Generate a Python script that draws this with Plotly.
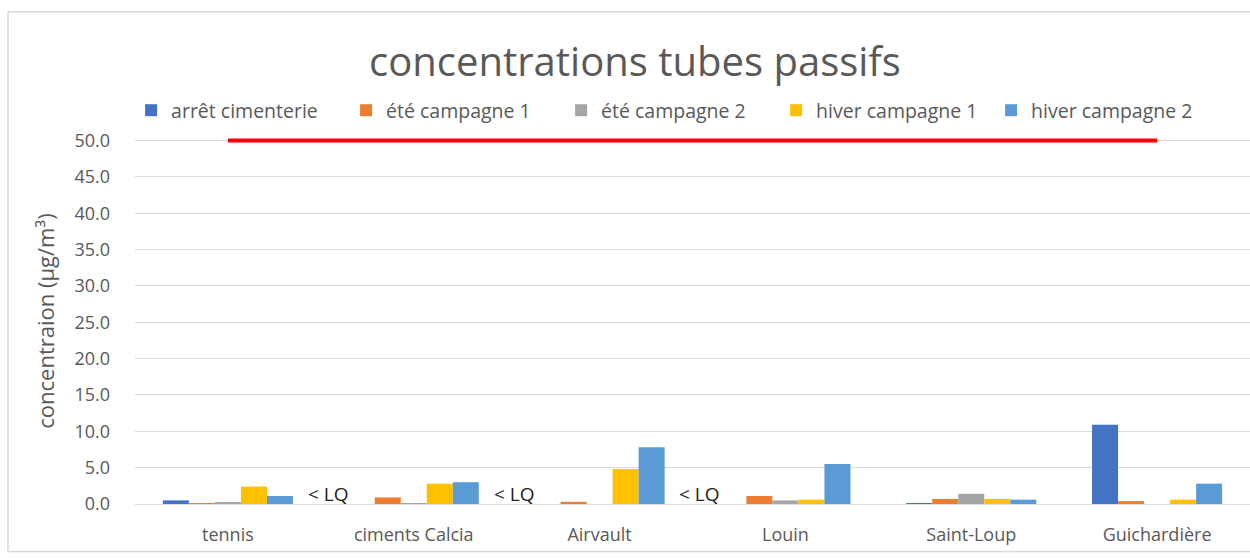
import plotly.graph_objects as go

categories = ["tennis", "ciments Calcia", "Airvault", "Louin", "Saint-Loup", "Guichardière"]
series_names = ["arrêt cimenterie", "été campagne 1", "été campagne 2", "hiver campagne 1", "hiver campagne 2"]
arret_cimenterie = [0.5, None, None, None, 0.1, 10.9]
ete_campagne_1 = [0.1, 0.9, 0.3, 1.1, 0.7, 0.4]
ete_campagne_2 = [0.2, 0.1, 0.0, 0.5, 1.4, 0.0]
hiver_campagne_1 = [2.4, 2.8, 4.8, 0.6, 0.7, 0.6]
hiver_campagne_2 = [1.1, 3.0, 7.8, 5.5, 0.6, 2.8]
limit_value = [50, 50, 50, 50, 50, 50]
lq_categories = ["ciments Calcia", "Airvault", "Louin"]
lq_label = "< LQ"
y_ticks = [0, 5, 10, 15, 20, 25, 30, 35, 40, 45, 50]

colors = ["#4472C4", "#ED7D31", "#A5A5A5", "#FFC000", "#5B9BD5"]
all_series = [arret_cimenterie, ete_campagne_1, ete_campagne_2, hiver_campagne_1, hiver_campagne_2]

FONT = "Open Sans"
GRAY = "#595959"

fig = go.Figure()
for name, vals, col in zip(series_names, all_series, colors):
    fig.add_trace(go.Bar(x=categories, y=vals, name=name, marker=dict(color=col, line=dict(width=0))))

fig.add_trace(go.Scatter(x=categories, y=limit_value, mode="lines",
                         line=dict(color="#FF0000", width=4), showlegend=False,
                         cliponaxis=False, hoverinfo="skip"))

annotations = []
for c in lq_categories:
    annotations.append(dict(x=c, y=1.4, xref="x", yref="y", text=lq_label, showarrow=False,
                            xanchor="right", yanchor="middle", xshift=-63,
                            font=dict(family=FONT, size=19, color="#222222")))
annotations.append(dict(x=-0.081, y=0.5, xref="paper", yref="paper", text="concentraion (µg/m³)",
                        showarrow=False, textangle=-90, xanchor="center", yanchor="middle",
                        font=dict(family=FONT, size=22, color=GRAY)))

# plot top at y=50.35 so the limit line at 50 is not clipped; 7.26 px per unit
top_px = 141 - 0.35 * 7.26
fig.update_layout(
    width=1250, height=558,
    margin=dict(l=135, r=0, t=top_px, b=54, autoexpand=False),
    paper_bgcolor="white", plot_bgcolor="white",
    title=dict(text="concentrations tubes passifs", x=0.508, xanchor="center",
               y=1 - 62 / 558, yanchor="middle",
               font=dict(family=FONT, size=40, color=GRAY)),
    barmode="group", bargap=0.3, bargroupgap=0,
    legend=dict(orientation="h", x=-0.0035, y=1.075, xanchor="left", yanchor="middle",
                font=dict(family=FONT, size=19.5, color=GRAY),
                entrywidth=170, entrywidthmode="pixels", itemwidth=30,
                bgcolor="rgba(0,0,0,0)"),
    annotations=annotations,
    shapes=[dict(type="rect", xref="paper", yref="paper",
                 x0=-0.1139, x1=1.05, y0=-0.13, y1=1.345,
                 line=dict(color="#D9D9D9", width=1.5), layer="below")],
    showlegend=True,
)
fig.update_yaxes(range=[0, 50.35], tickvals=y_ticks, ticktext=[f"{v:.1f}" for v in y_ticks],
                 showgrid=True, gridcolor="#D9D9D9", gridwidth=1, automargin=False,
                 zeroline=True, zerolinecolor="#D9D9D9", zerolinewidth=1,
                 showline=False, ticks="", ticklabelstandoff=24,
                 tickfont=dict(family=FONT, size=18, color=GRAY))
fig.update_xaxes(showgrid=False, showline=False, ticks="", ticklabelstandoff=18, automargin=False,
                 tickfont=dict(family=FONT, size=18, color=GRAY))

fig.write_html("out.html", config={"displayModeBar": False},
               post_script="document.body.style.margin='0';")
